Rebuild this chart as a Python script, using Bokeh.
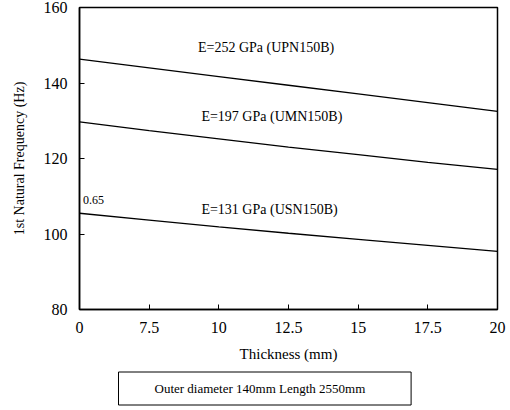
from bokeh.plotting import figure
from bokeh.models import FixedTicker, Label, Range1d, Title
from bokeh.embed import file_html
from bokeh.resources import INLINE

# ---- data ----
thickness_labels = ["0", "7.5", "10", "12.5", "15", "17.5", "20"]
upn150b = [146.3, 144.0, 141.7, 139.4, 137.1, 134.8, 132.5]
umn150b = [129.7, 127.4, 125.2, 123.0, 121.0, 119.0, 117.1]
usn150b = [105.5, 103.7, 101.9, 100.2, 98.6, 97.0, 95.4]
series_labels = ["E=252 GPa (UPN150B)", "E=197 GPa (UMN150B)", "E=131 GPa (USN150B)"]
y_ticks = [80, 100, 120, 140, 160]

xs = list(range(len(thickness_labels)))

SERIF = "Liberation Serif"
NARROW = "Liberation Sans Narrow"

p = figure(width=510, height=410, output_backend="svg", toolbar_location=None,
           x_range=Range1d(0, len(xs) - 1), y_range=Range1d(80, 160),
           min_border_left=79, min_border_right=13, min_border_top=7,
           min_border_bottom=12)
p.grid.visible = False
p.outline_line_color = "black"
p.outline_line_width = 1.5
p.background_fill_color = "white"
p.border_fill_color = "white"

for ys in (upn150b, umn150b, usn150b):
    p.line(xs, ys, line_color="black", line_width=1.3)

# axes
p.xaxis.ticker = FixedTicker(ticks=xs)
p.xaxis.major_label_overrides = {i: t for i, t in enumerate(thickness_labels)}
p.yaxis.ticker = FixedTicker(ticks=y_ticks)
for ax in (p.xaxis[0], p.yaxis[0]):
    ax.major_tick_in = 5
    ax.major_tick_out = 0
    ax.minor_tick_in = 0
    ax.minor_tick_out = 0
    ax.axis_line_color = "black"
    ax.axis_line_width = 1.5
    ax.major_label_text_font = NARROW
    ax.major_label_text_font_size = "16px"
    ax.major_label_text_color = "black"
    ax.axis_label_text_font = SERIF
    ax.axis_label_text_font_style = "normal"
    ax.axis_label_text_color = "black"
p.xaxis.axis_label = "Thickness (mm)"
p.xaxis.axis_label_text_font_size = "15px"
p.xaxis.major_label_standoff = 12
p.xaxis.axis_label_standoff = 10
p.yaxis.axis_label = "1st Natural Frequency (Hz)"
p.yaxis.axis_label_text_font_size = "14px"
p.yaxis.major_label_standoff = 12
p.yaxis.axis_label_standoff = 14

# series annotations
label_pos = [(1.7, 149.5), (1.75, 131.0), (1.75, 106.6)]
for (lx, ly), txt in zip(label_pos, series_labels):
    p.add_layout(Label(x=lx, y=ly, text=txt, text_font=SERIF, text_font_size="14px",
                       text_color="black", text_baseline="middle"))
p.add_layout(Label(x=0.05, y=109.0, text="0.65", text_font=SERIF, text_font_size="12px",
                   text_color="black", text_baseline="middle"))

# info box below the chart
p.add_layout(Title(text="Outer diameter  140mm  Length  2550mm", align="left",
                   offset=39, text_font=SERIF, text_font_size="13px",
                   text_font_style="normal", text_color="black",
                   border_line_color="black", border_line_width=1,
                   background_fill_color="white", padding=(36, 9),
                   standoff=11), "below")

open("out.html", "w").write(file_html(p, INLINE))
